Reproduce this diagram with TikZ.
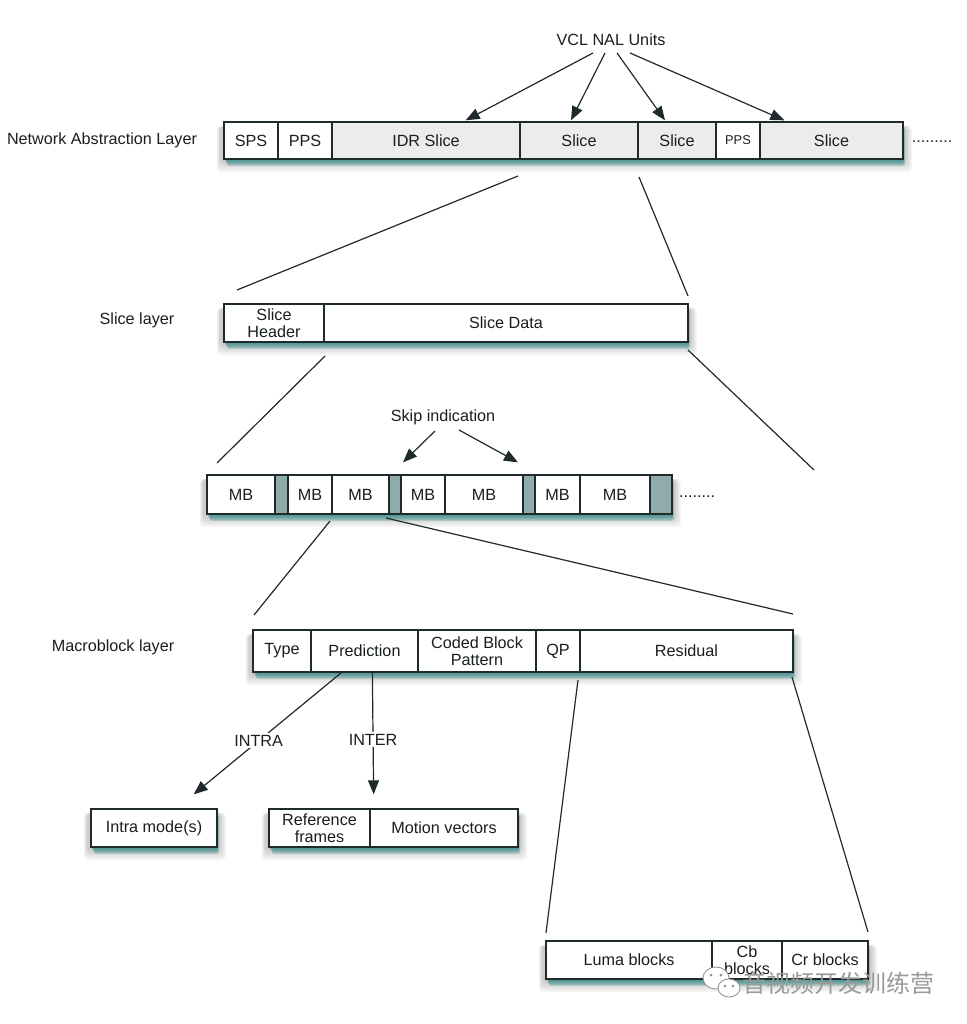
\documentclass[tikz,border=0pt]{standalone}
\usepackage{fontspec}
\setmainfont{Liberation Sans}
\newfontfamily\cjkfont{Noto Sans CJK SC}
\usetikzlibrary{arrows.meta,calc}

\definecolor{edge}{RGB}{30,42,44}
\definecolor{txt}{RGB}{25,30,30}
\definecolor{slicegray}{RGB}{236,236,236}
\definecolor{skipfill}{RGB}{143,172,170}
\definecolor{shteal}{RGB}{30,125,125}
\definecolor{shgray}{RGB}{110,110,110}

\newcommand{\fs}{\fontsize{16.2}{17}\selectfont}
\newcommand{\fss}{\fontsize{12.8}{14}\selectfont}

\tikzset{
  cellbox/.style={draw=edge, line width=1.3pt, inner sep=0pt, align=center, text=txt, font=\fs, fill=white},
  graycell/.style={fill=slicegray},
  skipcell/.style={fill=skipfill},
  link/.style={draw=edge, line width=1.2pt},
  arr/.style={link, -{Triangle[length=14pt,width=11pt]}},
  lbl/.style={text=txt, font=\fs, inner sep=1pt},
  onlinelbl/.style={lbl, fill=white, inner sep=2pt},
}

% [options]{name}{x1}{x2}{y1}{y2}{text}
\newcommand{\mkcell}[7][]{\node[cellbox,#1, minimum width={(#4-#3)*1pt}, minimum height={(#6-#5)*1pt}] (#2) at ({(#3+#4)/2},{(#5+#6)/2}) {#7};}
% x1 y1 x2 y2
\newcommand{\rowshadow}[4]{%
  \foreach \k in {1,...,7}{\fill[shgray, opacity=0.06, rounded corners=4pt] ({#1-3-\k*0.6},{#2+4}) rectangle ({#3+2+\k*1.0},{#4+2+\k*1.6});}
  \foreach \k in {1,...,5}{\fill[shteal, opacity=0.2, rounded corners=2pt] ({#1+\k*0.6},{#2+6}) rectangle ({#3+\k*0.4},{#4+1+\k*1.2});}
}

\begin{document}
\begin{tikzpicture}[x=1pt,y=-1pt]
\useasboundingbox (0,0) rectangle (966,1024);

% ---------- shadows ----------
\rowshadow{224}{122}{903}{159}
\rowshadow{224}{304}{688}{342}
\rowshadow{207}{475}{672}{514}
\rowshadow{253}{630}{793}{672}
\rowshadow{91}{809}{217}{847}
\rowshadow{269}{809}{518}{847}
\rowshadow{546}{941}{868}{979}

% ---------- NAL ----------
\node[lbl] (nallbl) at (102,140) {Network Abstraction Layer};
\mkcell{sps}{224}{278}{122}{159}{SPS}
\mkcell{pps}{278}{332}{122}{159}{PPS}
\mkcell[graycell]{idr}{332}{520}{122}{159}{IDR Slice}
\mkcell[graycell]{slB}{520}{638}{122}{159}{Slice}
\mkcell[graycell]{slC}{638}{716}{122}{159}{Slice}
\mkcell[font=\fss]{ppsB}{716}{760}{122}{159}{PPS}
\mkcell[graycell]{slE}{760}{903}{122}{159}{Slice}
\node[lbl, anchor=base] (naldots) at (932,143) {.........};

\node[lbl] (vcl) at (611,40) {VCL NAL Units};
\coordinate (v1) at (593,53);
\coordinate (v2) at (605,53);
\coordinate (v3) at (617,53);
\coordinate (v4) at (630,53);
\draw[arr] (v1) -- ($(idr.north east)+(-55,-1)$);
\draw[arr] (v2) -- ($(slB.north)+(-8,-1)$);
\draw[arr] (v3) -- ($(slC.north)+(-12,-1)$);
\draw[arr] (v4) -- ($(slE.north west)+(25,-1)$);

% ---------- Slice layer ----------
\node[lbl] (slicelbl) at (137,320) {Slice layer};
\mkcell{shdr}{224}{324}{304}{342}{Slice\\Header}
\mkcell{sdata}{324}{688}{304}{342}{Slice Data}

\coordinate (z1a) at (518,176);
\coordinate (z1b) at (237,290);
\coordinate (z2a) at (639,177);
\coordinate (z2b) at (688,296);
\draw[link] (z1a) -- (z1b);
\draw[link] (z2a) -- (z2b);

% ---------- MB row ----------
\mkcell{mb1}{207}{275}{475}{514}{MB}
\mkcell[skipcell]{sk1}{275}{288}{475}{514}{}
\mkcell{mb2}{288}{332}{475}{514}{MB}
\mkcell{mb3}{332}{389}{475}{514}{MB}
\mkcell[skipcell]{sk2}{389}{401}{475}{514}{}
\mkcell{mb4}{401}{445}{475}{514}{MB}
\mkcell{mb5}{445}{523}{475}{514}{MB}
\mkcell[skipcell]{sk3}{523}{535}{475}{514}{}
\mkcell{mb6}{535}{580}{475}{514}{MB}
\mkcell{mb7}{580}{650}{475}{514}{MB}
\mkcell[skipcell]{sk4}{650}{672}{475}{514}{}
\node[lbl, anchor=base] (mbdots) at (697,497) {........};

\coordinate (z3a) at (325,356);
\coordinate (z3b) at (217,463);
\coordinate (z4a) at (688,350);
\coordinate (z4b) at (814,470);
\draw[link] (z3a) -- (z3b);
\draw[link] (z4a) -- (z4b);

\node[lbl] (skiplbl) at (443,417) {Skip indication};
\coordinate (s1) at (435,431);
\coordinate (s2) at (459,430);
\draw[arr] (s1) -- ($(sk2.north)+(8,-12)$);
\draw[arr] (s2) -- ($(sk3.north)+(-11,-12)$);

% ---------- Macroblock layer ----------
\node[lbl] (mblbl) at (113,647) {Macroblock layer};
\mkcell{mtype}{253}{311}{630}{672}{Type}
\mkcell{mpred}{311}{418}{630}{672}{Prediction}
\mkcell{mcbp}{418}{536}{630}{672}{Coded Block\\Pattern}
\mkcell{mqp}{536}{580}{630}{672}{QP}
\mkcell{mres}{580}{793}{630}{672}{Residual}

\coordinate (z5a) at (330,521);
\coordinate (z5b) at (254,615);
\coordinate (z6a) at (386,518);
\coordinate (z6b) at (793,614);
\draw[link] (z5a) -- (z5b);
\draw[link] (z6a) -- (z6b);

% ---------- Prediction ----------
\mkcell{intra}{91}{217}{809}{847}{Intra mode(s)}
\mkcell{refs}{269}{370}{809}{847}{Reference\\frames}
\mkcell{mvs}{370}{518}{809}{847}{Motion vectors}

\draw[arr] ($(mpred.south west)+(31,0)$) -- node[onlinelbl, pos=0.56] {INTRA} ($(intra.north east)+(-24,-14)$);
\draw[arr] ($(mpred.south west)+(62,0)$) -- node[onlinelbl, pos=0.55] {INTER} ($(refs.north east)+(3,-14)$);

% ---------- Residual ----------
\mkcell{luma}{546}{712}{941}{979}{Luma blocks}
\mkcell{cb}{712}{782}{941}{979}{Cb\\blocks}
\mkcell{cr}{782}{868}{941}{979}{Cr blocks}

\coordinate (z7a) at (578,680);
\coordinate (z7b) at (546,933);
\coordinate (z8a) at (792,677);
\coordinate (z8b) at (868,932);
\draw[link] (z7a) -- (z7b);
\draw[link] (z8a) -- (z8b);

% ---------- watermark ----------
\begin{scope}[line width=0.8pt]
  \fill[white, draw=black!45] (716,978) ellipse (13 and 11);
  \fill[black!45] (711,975) circle (1.5);
  \fill[black!45] (721,975) circle (1.5);
  \fill[white, draw=black!45] (729,988) ellipse (11 and 9);
  \fill[black!45] (725,986) circle (1.4);
  \fill[black!45] (733,986) circle (1.4);
\end{scope}
\node[font=\cjkfont\fontsize{24}{26}\selectfont, text=black!40, inner sep=0pt] (wm) at (838,983) {音视频开发训练营};
\end{tikzpicture}
\end{document}
